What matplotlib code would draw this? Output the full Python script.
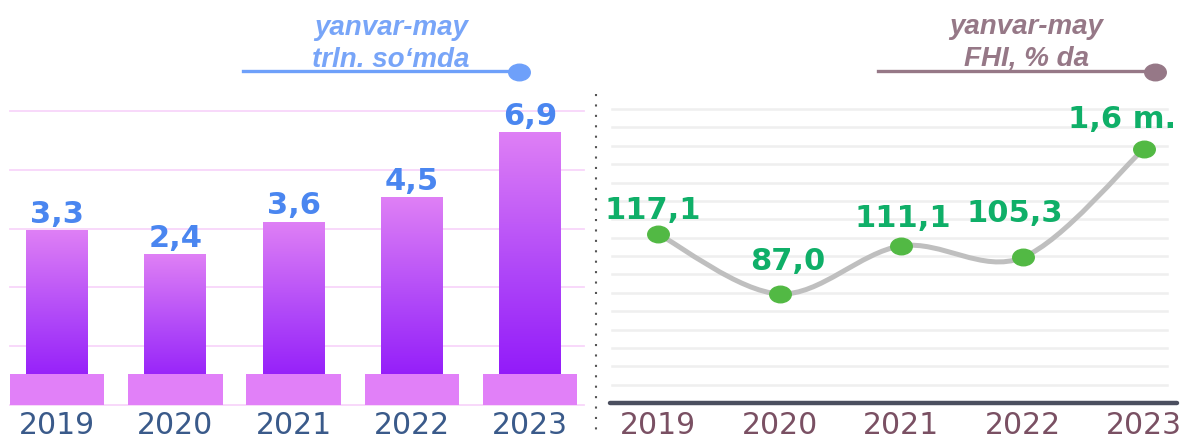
import numpy as np
import matplotlib.pyplot as plt
from matplotlib.colors import LinearSegmentedColormap
from matplotlib.lines import Line2D
from matplotlib.path import Path
from matplotlib.patches import PathPatch
from matplotlib.transforms import Affine2D

plt.rcParams['font.family'] = ['DejaVu Sans']

# data
years = ['2019', '2020', '2021', '2022', '2023']
volume = [3.3, 2.4, 3.6, 4.5, 6.9]              # trln. so'm, yanvar-may
volume_labels = ['3,3', '2,4', '3,6', '4,5', '6,9']
growth = [117.1, 87.0, 111.1, 105.3, 160.0]     # FHI, % (1,6 m. ~ 160%)
growth_labels = ['117,1', '87,0', '111,1', '105,3', '1,6 m.']
label_offsets = [(-3.6, 11.5), (6, 18), (1.4, 14.4), (-5.4, 26.6), (-15.8, 15.8)]  # points

W, H = 1180, 439
fig = plt.figure(figsize=(W / 100, H / 100), dpi=100)


def px_axes(x0, y0, x1, y1):
    return fig.add_axes([x0 / W, 1 - y1 / H, (x1 - x0) / W, (y1 - y0) / H])


def smooth_path(xs, ys, t=1 / 6):
    # catmull-rom style bezier through the points
    pts = np.column_stack([xs, ys])
    n = len(pts)
    verts, codes = [pts[0]], [Path.MOVETO]
    for i in range(n - 1):
        p0, p1 = pts[max(i - 1, 0)], pts[i]
        p2, p3 = pts[i + 1], pts[min(i + 2, n - 1)]
        verts += [p1 + (p2 - p0) * t, p2 - (p3 - p1) * t, p2]
        codes += [Path.CURVE4] * 3
    return Path(verts, codes)


ellipse = Path.unit_circle().transformed(Affine2D().scale(1.3, 1.0))

# ---------- left: bars ----------
ax1 = px_axes(10, 112, 584, 406)
x = np.arange(len(years))
ymin1, ymax1 = -3.13, 7.67
for gy in np.linspace(ymin1, ymax1, 6):
    ax1.axhline(gy, color='#F8D6FA', lw=1.3, zorder=0, clip_on=False)

cmap = LinearSegmentedColormap.from_list('bar', ['#8A0EFA', '#B048F8', '#DF80F5'])
grad = np.linspace(0, 1, 256).reshape(-1, 1)
bars = ax1.bar(x, np.array(volume) - ymin1, bottom=ymin1, width=0.524,
               color='none', zorder=2)
for b in bars:
    bx, by = b.get_x(), b.get_y()
    im = ax1.imshow(grad, extent=[bx, bx + b.get_width(), by, by + b.get_height()],
                    aspect='auto', cmap=cmap, origin='lower', zorder=2)
    im.set_clip_path(b)

ax1.bar(x, 1.14, bottom=ymin1, width=0.80, color='#E180F8', zorder=3)

for xi, v, lbl in zip(x, volume, volume_labels):
    ax1.annotate(lbl, (xi, v), xytext=(0, 6), textcoords='offset points',
                 ha='center', va='baseline', fontsize=22, fontweight='bold',
                 color='#4A86F0')

ax1.set_xlim(-0.397, 4.455)
ax1.set_ylim(ymin1, ymax1)
ax1.set_xticks(x, years)
ax1.set_yticks([])
ax1.tick_params(axis='x', length=0, pad=3.5, labelsize=21.5, labelcolor='#3A5A8A')
for s in ax1.spines.values():
    s.set_visible(False)

# ---------- right: line ----------
ax2 = px_axes(612, 110, 1167, 404)
ymin2, ymax2 = 32.2, 179.9
for gy in np.linspace(ymin2, ymax2, 17)[1:]:
    ax2.axhline(gy, color='#EFEFEF', lw=1.8, zorder=0, clip_on=False)
ax2.plot([-0.004, 1.018], [0, 0], transform=ax2.transAxes, color='#4B4F5F',
         lw=3.2, clip_on=False, solid_capstyle='round', zorder=5)

ax2.add_patch(PathPatch(smooth_path(x, growth), fill=False, edgecolor='#BFBFBF',
                        lw=3.6, zorder=2))
ax2.plot(x, growth, linestyle='none', marker=ellipse, ms=15.5, color='#52B944',
         zorder=4)
for xi, v, lbl, off in zip(x, growth, growth_labels, label_offsets):
    ax2.annotate(lbl, (xi, v), xytext=off, textcoords='offset points',
                 ha='center', va='baseline', fontsize=22, fontweight='bold',
                 color='#0FAF68', zorder=6)

ax2.set_xlim(-0.379, 4.189)
ax2.set_ylim(ymin2, ymax2)
ax2.set_xticks(x, years)
ax2.set_yticks([])
ax2.tick_params(axis='x', length=0, pad=5, labelsize=21.5, labelcolor='#7A5063')
for s in ax2.spines.values():
    s.set_visible(False)

# ---------- headers ----------
head_style = dict(ha='center', va='baseline', fontsize=20, fontweight='bold',
                  style='italic', family=['Liberation Sans', 'DejaVu Sans'])
fig.text(391 / W, 1 - 35 / H, 'yanvar-may', color='#78A5F8', **head_style)
fig.text(391 / W, 1 - 67 / H, 'trln. so\u2018mda', color='#78A5F8', **head_style)
fig.text(1026 / W, 1 - 34 / H, 'yanvar-may', color='#967887', **head_style)
fig.text(1027 / W, 1 - 66 / H, 'FHI, % da', color='#967887', **head_style)

for x0, x1, c in [(243, 519, '#6EA0FA'), (878, 1155, '#967887')]:
    fig.add_artist(Line2D([x0 / W, x1 / W], [1 - 72 / H] * 2, color=c, lw=2.4))
    fig.add_artist(Line2D([x1 / W], [1 - 73 / H], marker=ellipse, ms=15.5, color=c))

# dotted separator
fig.add_artist(Line2D([596 / W] * 2, [1 - 95 / H, 1 - 436 / H], color='#555555',
                      lw=1.5, linestyle=(0, (1, 4))))

fig.savefig('out.png', dpi=100)
